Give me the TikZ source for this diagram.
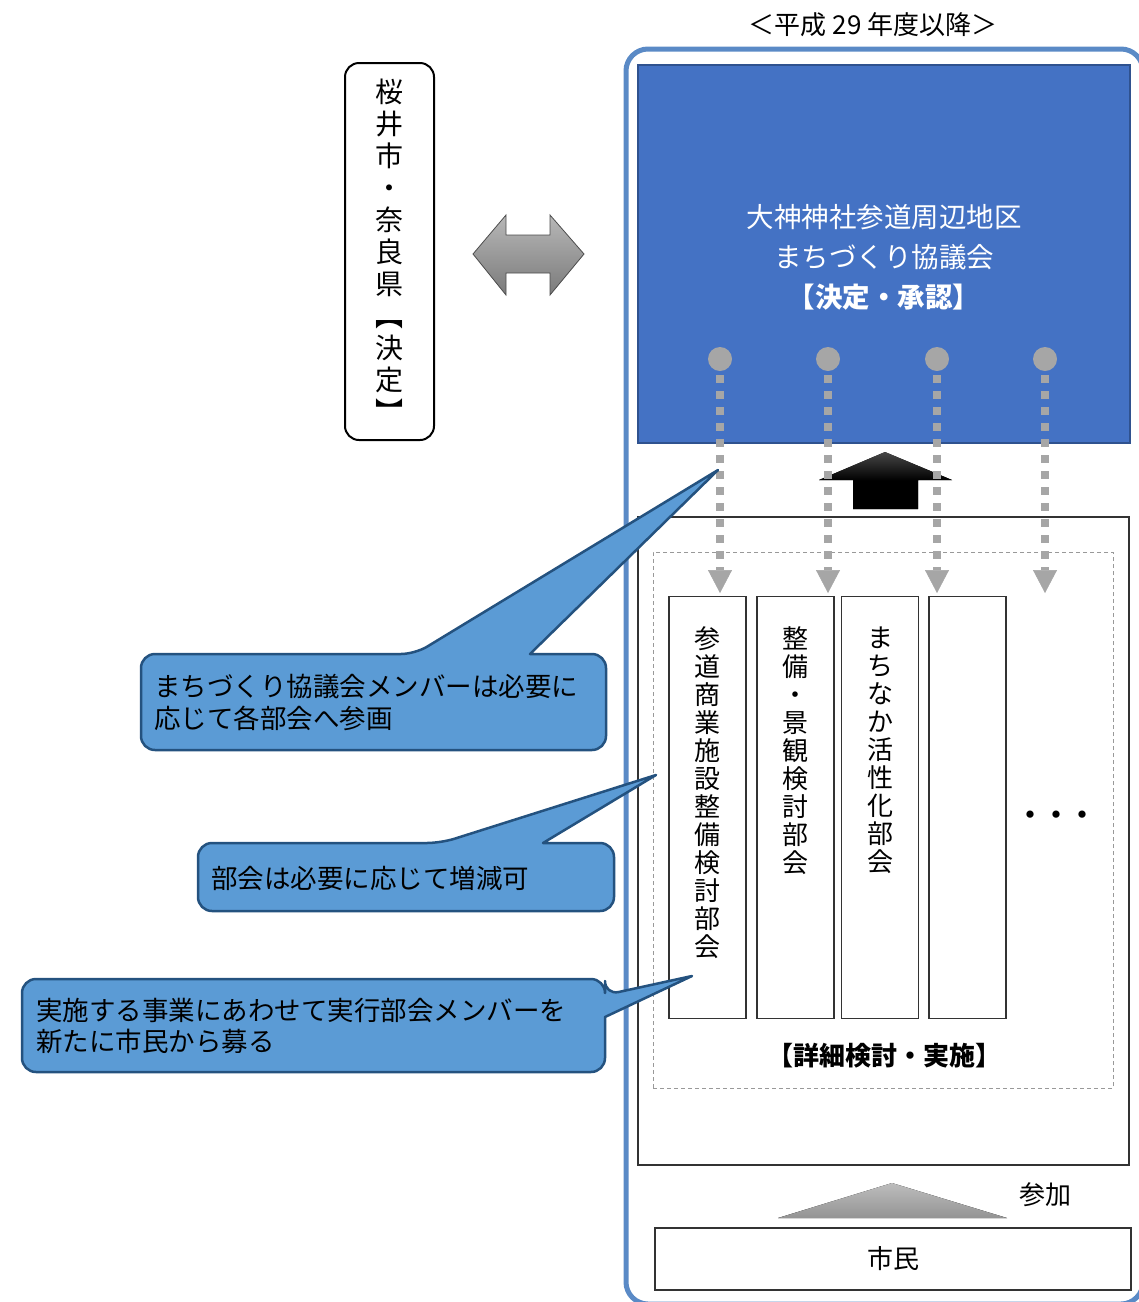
\documentclass[tikz,border=0pt]{standalone}
\usepackage{fontspec}
\setmainfont{Noto Sans CJK JP}
\usetikzlibrary{positioning, arrows.meta}

\definecolor{framecol}{HTML}{5A8AC6}
\definecolor{councilfill}{HTML}{4472C4}
\definecolor{councilline}{HTML}{2F528F}
\definecolor{hubgray}{HTML}{A6A6A6}
\definecolor{notefill}{HTML}{5B9BD5}
\definecolor{noteline}{HTML}{24527F}

\tikzset{
  frame/.style={draw=framecol, line width=5pt, rounded corners=22pt},
  councilbox/.style={draw=councilline, line width=2pt, fill=councilfill},
  counciltext/.style={text=white, align=center, inner sep=0pt, font=\fontsize{27.5}{40}\selectfont},
  prefbox/.style={draw=black, line width=2pt, rounded corners=14pt, fill=white},
  box/.style={draw=black!80, line width=1.5pt, fill=white, inner sep=0pt},
  zonebox/.style={draw=black!40, line width=1pt, dash pattern=on 4pt off 3pt, inner sep=0pt},
  subbox/.style={box, minimum width=77pt, minimum height=422pt},
  vtext/.style={align=center, inner sep=0pt, font=\fontsize{26}{28}\selectfont},
  hub/.style={circle, fill=hubgray, minimum size=24pt, inner sep=0pt},
  feed/.style={draw=hubgray, line width=8pt, dash pattern=on 8pt off 8pt, shorten <=4pt,
    -{Triangle[width=24pt, length=23pt, line width=0.5pt]}},
  note/.style={fill=notefill, draw=noteline, line width=2.5pt, line join=round},
  notetext/.style={anchor=west, align=left, inner sep=0pt}
}

\begin{document}
\begin{tikzpicture}[x=1pt, y=-1pt, font=\fontsize{26}{28}\selectfont]

        \useasboundingbox (0,0) rectangle (1139,1302);
        \clip (0,0) rectangle (1139,1302);

        % heading
        \node (year) at (873,25) {＜平成 29 年度以降＞};

        % outer frame (runs off the page on the right and bottom)
        \draw[frame] (626,49) rectangle (1143,1304);

        % council
        \node (council) [councilbox, minimum width=492pt, minimum height=378pt] at (884,254) {};
        \node (councilname) [counciltext] at (884,257)
          {大神神社参道周辺地区\\まちづくり協議会\\\textbf{【決定・承認】}};

        % city and prefecture
        \node (pref) [prefbox, minimum width=89pt, minimum height=377pt] at (389.5,251.5) {};
        \node (preftext) [vtext, font=\fontsize{28}{32}\selectfont, below=17pt of pref.north]
          {桜\\井\\市\\・\\奈\\良\\県\\︻\\決\\定\\︼};

        % two way arrow
        \draw[draw=black!70, line width=0.8pt, top color=black!28, bottom color=black!52]
          (473,254) -- (506,215) -- (506,235) -- (550,235) -- (550,215) -- (584,254)
          -- (550,295) -- (550,273) -- (506,273) -- (506,295) -- cycle;

        % working groups
        \node (wg) [box, minimum width=491pt, minimum height=648pt] at (883.5,841) {};
        \node (zone) [zonebox, minimum width=460pt, minimum height=536pt] at (883,820) {};

        \node (sub1) [subbox] at (707.5,807.5) {};
        \node (sub2) [subbox] at (795.5,807.5) {};
        \node (sub3) [subbox] at (880,807.5) {};
        \node (sub4) [subbox] at (967.5,807.5) {};

        \node (sub1text) [vtext, below=31pt of sub1.north] {参\\道\\商\\業\\施\\設\\整\\備\\検\\討\\部\\会};
        \node (sub2text) [vtext, below=31pt of sub2.north] {整\\備\\・\\景\\観\\検\\討\\部\\会};
        \node (sub3text) [vtext, below=31pt of sub3.north] {ま\\ち\\な\\か\\活\\性\\化\\部\\会};
        \node (more) at (1056,818) {\textbf{・・・}};

        \node (zonelabel) at (884,1056) {\textbf{【詳細検討・実施】}};

        % report arrow
        \fill[top color=black!72, bottom color=black, middle color=black]
          (853,509) -- (853,480) -- (819,480) -- (885,452) -- (952,480)
          -- (918,480) -- (918,509) -- cycle;

        % citizens
        \node (citizen) [box, minimum width=476pt, minimum height=62pt] at (893,1259) {市民};
        \fill[top color=black!26, bottom color=black!42] (778,1218) -- (892,1183) -- (1007,1218) -- cycle;
        \node (join) at (1045,1195) {参加};

        % members sent down to the groups
        \node (d1) [hub] at (720,359) {};
        \node (d2) [hub] at (828,359) {};
        \node (d3) [hub] at (937,359) {};
        \node (d4) [hub] at (1045,359) {};
        \coordinate (e1) at (720,593);
        \coordinate (e2) at (828,593);
        \coordinate (e3) at (937,593);
        \coordinate (e4) at (1045,593);
        \draw[feed] (d1) -- (e1);
        \draw[feed] (d2) -- (e2);
        \draw[feed] (d3) -- (e3);
        \draw[feed] (d4) -- (e4);

        % callouts
        \draw[note] (141,700) [rounded corners=14pt] -- (141,654) -- (415,654) [sharp corners]
          -- (718,470) -- (530,654) [rounded corners=14pt] -- (606,654) -- (606,750)
          -- (141,750) -- cycle;
        \node (note1) [notetext, font=\fontsize{26.5}{32}\selectfont] at (154,702)
          {まちづくり協議会メンバーは必要に\\応じて各部会へ参画};

        \draw[note] (198,880) [rounded corners=14pt] -- (198,843) -- (441,843) [sharp corners]
          -- (656,775) -- (543,843) [rounded corners=14pt] -- (614,843) -- (614,911)
          -- (198,911) -- cycle;
        \node (note2) [notetext, font=\fontsize{26.5}{32}\selectfont] at (211,878)
          {部会は必要に応じて増減可};

        \draw[note] (22,1020) [rounded corners=14pt] -- (22,979) -- (605,979) -- (605,995)
          [sharp corners] -- (692,976) -- (605,1017) [rounded corners=14pt] -- (605,1072)
          -- (22,1072) -- cycle;
        \node (note3) [notetext, font=\fontsize{26.5}{31}\selectfont] at (36,1026)
          {実施する事業にあわせて実行部会メンバーを\\新たに市民から募る};

\end{tikzpicture}
\end{document}
